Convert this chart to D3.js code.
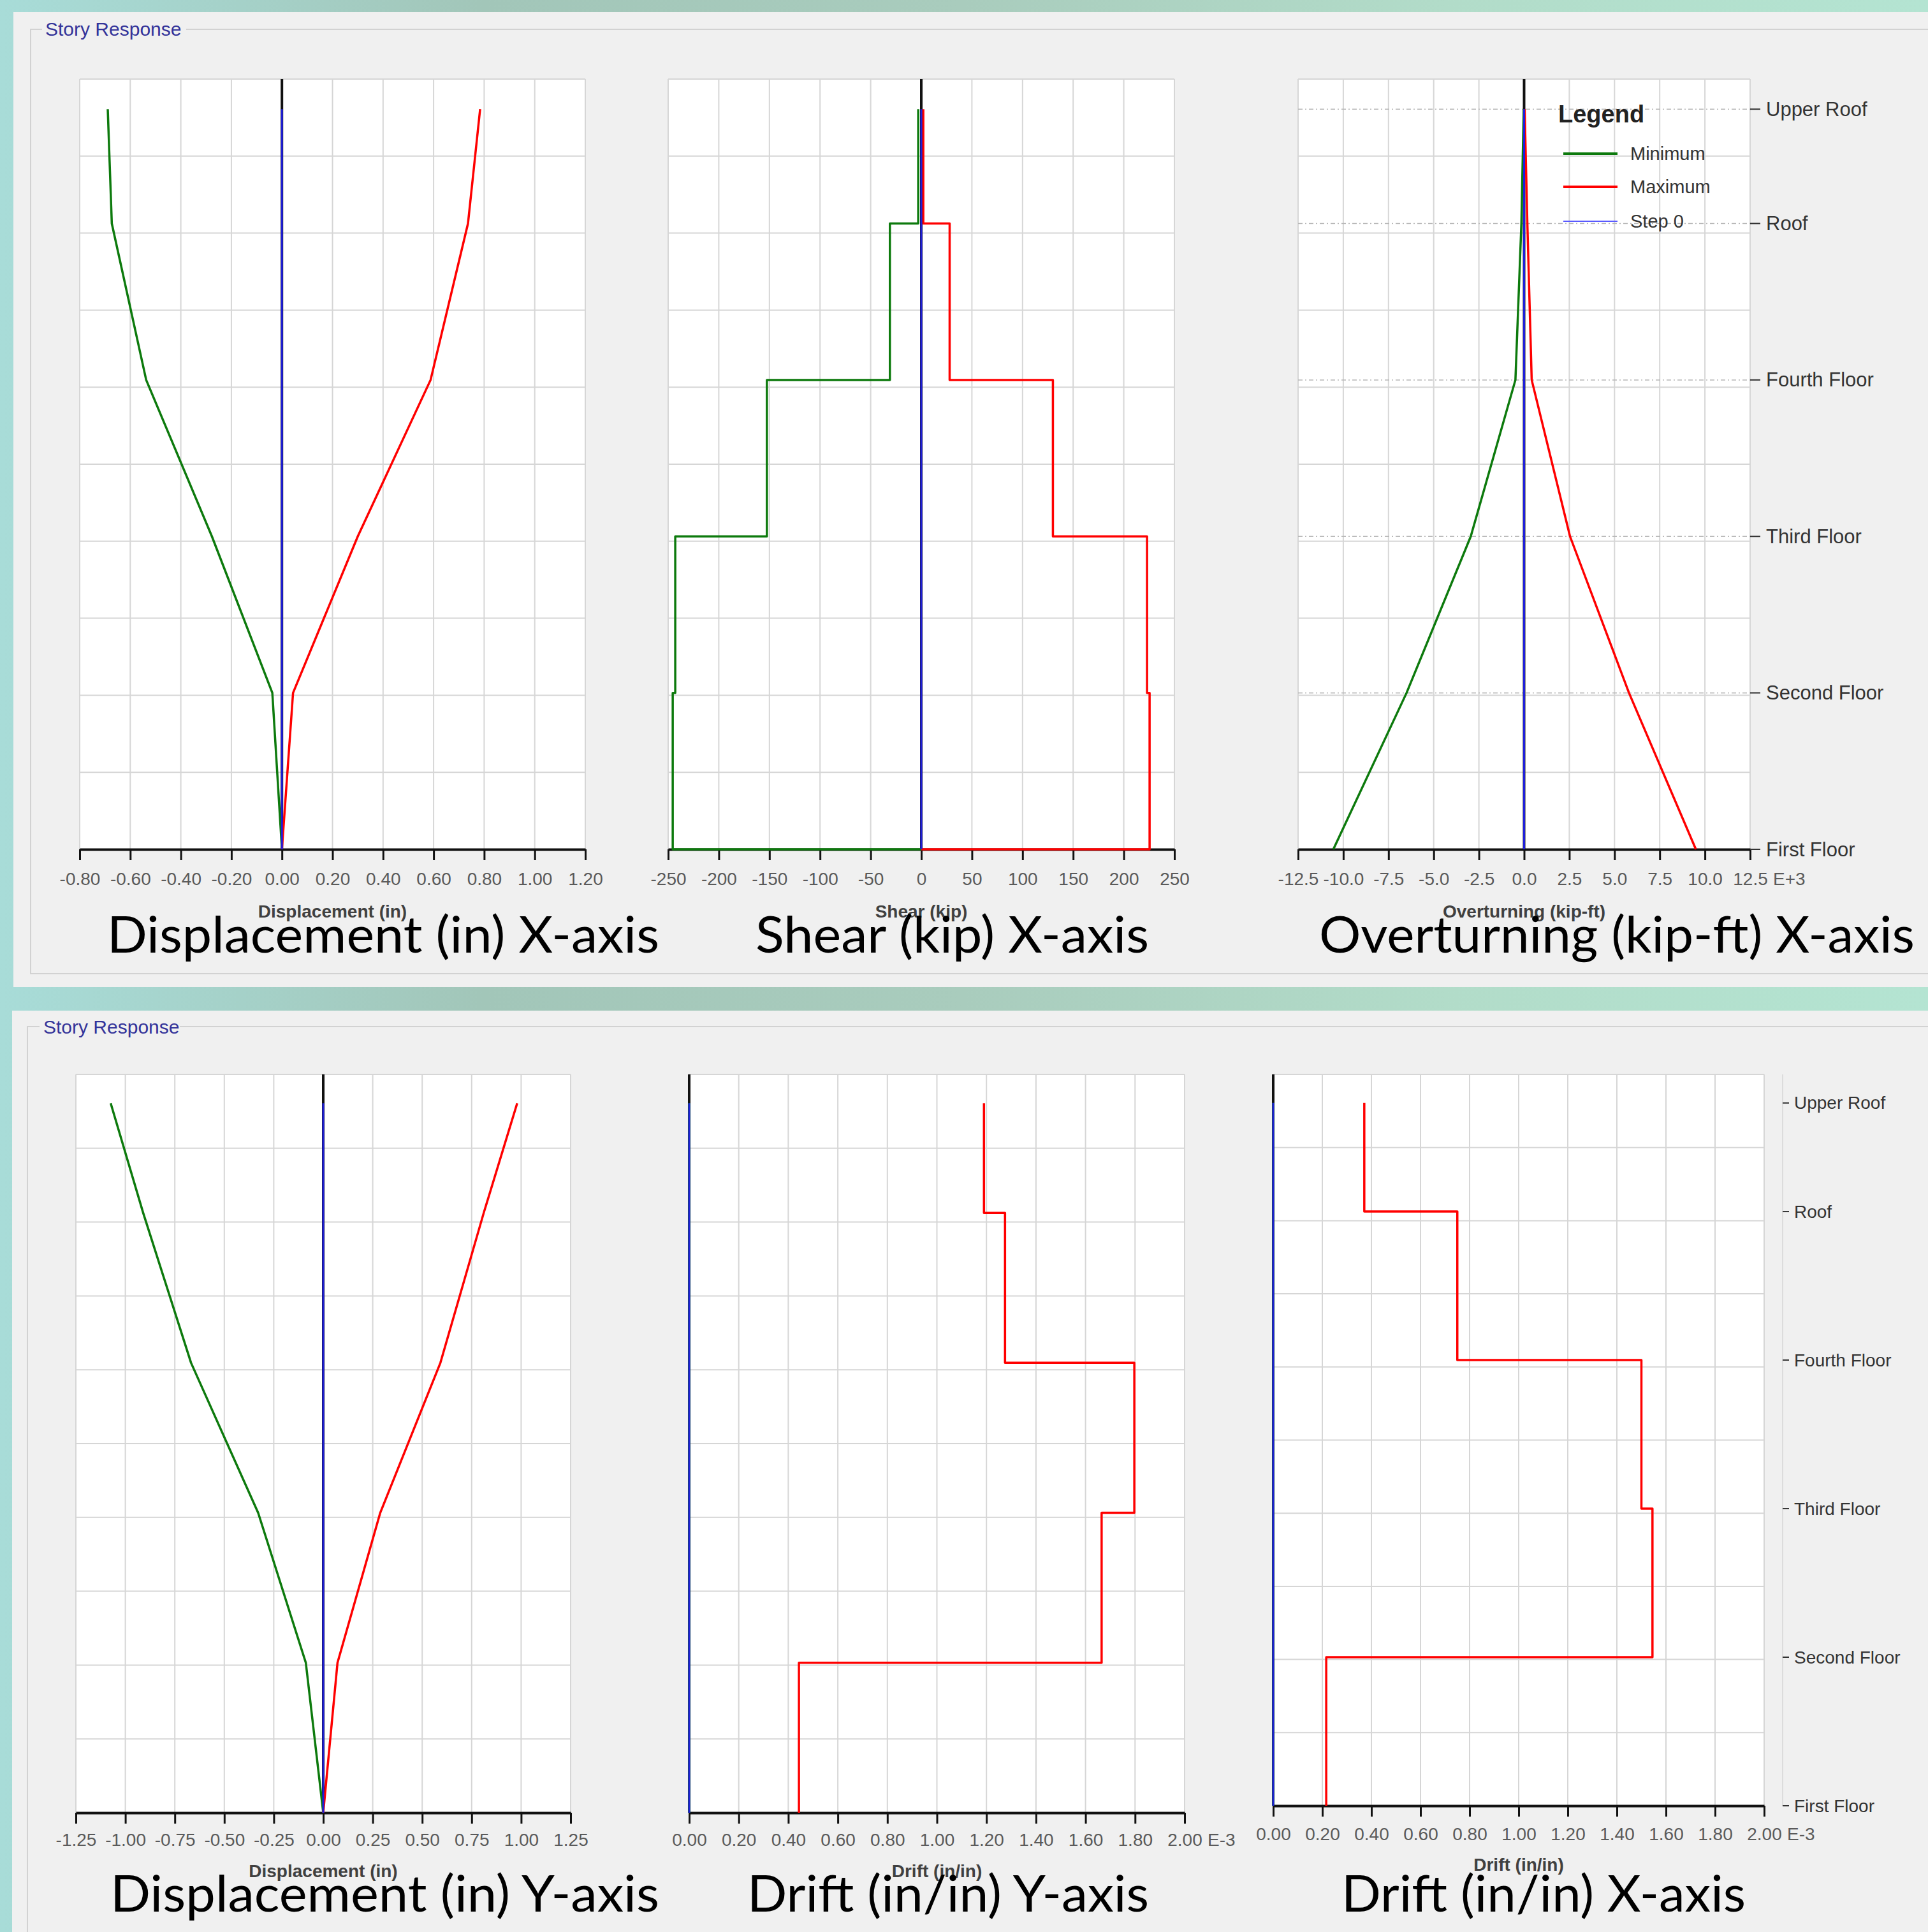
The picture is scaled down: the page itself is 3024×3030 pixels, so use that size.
<!DOCTYPE html>
<html><head><meta charset="utf-8">
<script src="https://cdn.jsdelivr.net/npm/d3@7"></script>
<style>html,body{margin:0;padding:0;background:#a9d3cc;} svg{display:block}</style>
</head><body><svg id="c" width="3024" height="3030"></svg>
<script>
// ---------- DATA ----------
const stories = ["First Floor","Second Floor","Third Floor","Fourth Floor","Roof","Upper Roof"];
const elevations = [0, 13, 26, 39, 52, 61.5];           // ft
const elevGrid = [0, 6.4, 12.8, 19.2, 25.6, 32, 38.4, 44.8, 51.2, 57.6, 64];

// Displacement X (in) at each level (First..Upper Roof)
const dispXMin = [0, -0.038, -0.277, -0.537, -0.673, -0.689];
const dispXMax = [0, 0.044, 0.300, 0.588, 0.736, 0.784];
// Shear X (kip) per story (Second..Upper Roof story)
const shearXMin = [-245.5, -243, -152.5, -31, -3];
const shearXMax = [225.5, 223, 130, 28, 2];
// Overturning X (kip-ft, E+3) at each level
const otmXMin = [-10.55, -6.5, -2.95, -0.48, -0.15, -0.02];
const otmXMax = [9.5, 5.8, 2.54, 0.42, 0.18, 0.03];
// Displacement Y (in) at each level
const dispYMin = [0, -0.088, -0.329, -0.668, -0.910, -1.074];
const dispYMax = [0, 0.072, 0.288, 0.592, 0.811, 0.980];
// Drift (E-3) per story (Second..Upper Roof story)
const driftYMin = [0, 0, 0, 0, 0];
const driftYMax = [0.443, 1.665, 1.797, 1.275, 1.19];
const driftXMin = [0, 0, 0, 0, 0];
const driftXMax = [0.216, 1.545, 1.500, 0.750, 0.371];
const step0 = [0, 0, 0, 0, 0, 0];

// Tick labels
const dispXTicks = [-0.8, -0.6, -0.4, -0.2, 0, 0.2, 0.4, 0.6, 0.8, 1.0, 1.2];
const shearTicks = [-250, -200, -150, -100, -50, 0, 50, 100, 150, 200, 250];
const otmTicks = [-12.5, -10, -7.5, -5, -2.5, 0, 2.5, 5, 7.5, 10, 12.5];
const dispYTicks = [-1.25, -1, -0.75, -0.5, -0.25, 0, 0.25, 0.5, 0.75, 1, 1.25];
const driftTicks = [0, 0.2, 0.4, 0.6, 0.8, 1.0, 1.2, 1.4, 1.6, 1.8, 2.0];
const legendItems = ["Minimum", "Maximum", "Step 0"];

// ---------- STYLE ----------
const C = {green:"#0d7a0d", red:"#ff0000", blue:"#1f1fd8", legendBlue:"#5a5aff",
  grid:"#d6d6d6", panel:"#f0f0f0", tick:"#5a5a5a", title:"#404040", label:"#333333"};
const loc = d3.formatLocale({decimal:".", thousands:",", grouping:[3], currency:["",""], minus:"-"});

const svg = d3.select("#c");
const defs = svg.append("defs");
const g1 = defs.append("linearGradient").attr("id","bg").attr("x1","0").attr("x2","1").attr("y1","0").attr("y2","0");
[["0","#a8dcd8"],["0.25","#a2c6b9"],["0.5","#a9ccbd"],["0.75","#b2dcc9"],["1","#b4e4d2"]]
  .forEach(([o,c])=>g1.append("stop").attr("offset",o).attr("stop-color",c));
svg.append("rect").attr("width",3024).attr("height",3030).attr("fill","url(#bg)");

// panels
svg.append("rect").attr("x",21).attr("y",19).attr("width",3010).attr("height",1529).attr("fill",C.panel);
svg.append("rect").attr("x",19).attr("y",1585).attr("width",3010).attr("height",1450).attr("fill",C.panel);
// group boxes
const gb = svg.append("g").attr("fill","none").attr("stroke","#d2d2d2").attr("stroke-width",2);
gb.append("path").attr("d","M66,46H48V1527H3030");
gb.append("path").attr("d","M292,46H3030");
gb.append("path").attr("d","M62,1610H43V3040");
gb.append("path").attr("d","M282,1610H3030");
svg.append("text").attr("x",71).attr("y",56).text("Story Response")
  .attr("font-family","Liberation Sans, Arial, sans-serif").attr("font-size",30).attr("fill","#333399");
svg.append("text").attr("x",68).attr("y",1621).text("Story Response")
  .attr("font-family","Liberation Sans, Arial, sans-serif").attr("font-size",30).attr("fill","#333399");

const plots = [
  {L:125,R:918,T:124,B:1332, dom:[-0.8,1.2], ticks:dispXTicks, f:loc.format(".2f"), title:"Displacement (in)",
   caption:"Displacement (in) X-axis", capX:[168,1034], capY:1494, type:"line", min:dispXMin, max:dispXMax, tickDy:56, titleDy:107},
  {L:1048,R:1842,T:124,B:1332, dom:[-250,250], ticks:shearTicks, f:loc.format("d"), title:"Shear (kip)",
   caption:"Shear (kip) X-axis", capX:[1185,1802], capY:1494, type:"step", closeZero:true, min:shearXMin, max:shearXMax, tickDy:56, titleDy:107},
  {L:2036,R:2745,T:124,B:1332, dom:[-12.5,12.5], ticks:otmTicks, f:loc.format(".1f"), suffix:"E+3", title:"Overturning (kip-ft)",
   caption:"Overturning (kip-ft) X-axis", capX:[2069,3003], capY:1494, type:"line", min:otmXMin, max:otmXMax, tickDy:56, titleDy:107,
   labels:{x0:2745, x1:2761, tx:2770, size:31}, legend:true, dotted:true},
  {L:119,R:895,T:1685,B:2843, dom:[-1.25,1.25], ticks:dispYTicks, f:loc.format(".2f"), title:"Displacement (in)",
   caption:"Displacement (in) Y-axis", capX:[173,1034], capY:2998, type:"line", min:dispYMin, max:dispYMax, tickDy:52, titleDy:101},
  {L:1081,R:1858,T:1685,B:2843, dom:[0,2], ticks:driftTicks, f:loc.format(".2f"), suffix:"E-3", title:"Drift (in/in)",
   caption:"Drift (in/in) Y-axis", capX:[1172,1802], capY:2998, type:"step", min:driftYMin, max:driftYMax, tickDy:52, titleDy:101},
  {L:1997,R:2767,T:1685,B:2832, dom:[0,2], ticks:driftTicks, f:loc.format(".2f"), suffix:"E-3", title:"Drift (in/in)",
   caption:"Drift (in/in) X-axis", capX:[2104,2738], capY:2998, type:"step", min:driftXMin, max:driftXMax, tickDy:54, titleDy:102,
   labels:{axis:2796, x0:2796, x1:2806, tx:2814, size:28}}
];

function levelPoints(vals){ return elevations.map((e,i)=>[vals[i], e]); }
function stepPoints(vals, closeZero){
  const pts = [];
  for (let i = elevations.length-1; i >= 1; i--) {
    pts.push([vals[i-1], elevations[i]]);
    pts.push([vals[i-1], elevations[i-1]]);
  }
  if (closeZero) pts.push([0, elevations[0]]);
  return pts;
}

plots.forEach(p => {
  const x = d3.scaleLinear().domain(p.dom).range([p.L, p.R]);
  const y = d3.scaleLinear().domain([0, 64]).range([p.B, p.T]);
  const g = svg.append("g");
  g.append("rect").attr("x",p.L).attr("y",p.T).attr("width",p.R-p.L).attr("height",p.B-p.T).attr("fill","#fff");
  // grid
  g.selectAll(".vg").data(p.ticks).join("line").attr("x1",d=>x(d)).attr("x2",d=>x(d))
    .attr("y1",p.T).attr("y2",p.B).attr("stroke",C.grid).attr("stroke-width",2);
  g.selectAll(".hg").data(elevGrid).join("line").attr("y1",d=>y(d)).attr("y2",d=>y(d))
    .attr("x1",p.L).attr("x2",p.R).attr("stroke",C.grid).attr("stroke-width",2);
  if (p.dotted) {
    g.selectAll(".dl").data(elevations.slice(1)).join("line").attr("y1",d=>y(d)).attr("y2",d=>y(d))
      .attr("x1",p.L).attr("x2",p.R).attr("stroke","#b8b8b8").attr("stroke-width",1.5)
      .attr("stroke-dasharray","7,4,2,4");
  }
  // zero line (black)
  g.append("line").attr("x1",x(0)).attr("x2",x(0)).attr("y1",p.T).attr("y2",p.B)
    .attr("stroke","#111").attr("stroke-width",4);
  // bottom axis
  const ax = g.append("g").attr("transform",`translate(0,${p.B})`)
    .call(d3.axisBottom(x).tickValues(p.ticks).tickSize(17).tickSizeOuter(0).tickFormat(p.f));
  ax.select(".domain").attr("stroke","#111").attr("stroke-width",4);
  ax.selectAll(".tick line").attr("stroke","#111").attr("stroke-width",3);
  ax.selectAll(".tick text").attr("y", p.tickDy - 11).attr("dy",0).attr("dominant-baseline","auto")
    .attr("transform","translate(0,11)")
    .attr("font-family","Liberation Sans, Arial, sans-serif").attr("font-size",28).attr("fill",C.tick);
  if (p.suffix) {
    g.append("text").attr("x",p.R+36).attr("y",p.B+p.tickDy).text(p.suffix)
      .attr("font-family","Liberation Sans, Arial, sans-serif").attr("font-size",28).attr("fill",C.tick);
  }
  // data
  const line = d3.line().x(d=>x(d[0])).y(d=>y(d[1]));
  const minPts = p.type === "line" ? levelPoints(p.min) : stepPoints(p.min, p.closeZero);
  const maxPts = p.type === "line" ? levelPoints(p.max) : stepPoints(p.max, p.closeZero);
  g.append("path").attr("d",line(minPts)).attr("fill","none").attr("stroke",C.green).attr("stroke-width",3.5).attr("stroke-linejoin","round");
  g.append("path").attr("d",line(maxPts)).attr("fill","none").attr("stroke",C.red).attr("stroke-width",3.5).attr("stroke-linejoin","round");
  g.append("path").attr("d",line(levelPoints(step0))).attr("fill","none").attr("stroke",C.blue).attr("stroke-width",3);
  // titles
  g.append("text").attr("x",(p.L+p.R)/2).attr("y",p.B+p.titleDy).attr("text-anchor","middle").text(p.title)
    .attr("font-family","Liberation Sans, Arial, sans-serif").attr("font-weight","bold").attr("font-size",28).attr("fill",C.title);
  g.append("text").attr("x",p.capX[0]).attr("y",p.capY).text(p.caption)
    .attr("textLength",p.capX[1]-p.capX[0]).attr("lengthAdjust","spacingAndGlyphs")
    .attr("font-family","Lato, Carlito, 'Open Sans', sans-serif").attr("font-size",80).attr("fill","#000");
  // story labels
  if (p.labels) {
    const lb = p.labels;
    if (lb.axis) g.append("line").attr("x1",lb.axis).attr("x2",lb.axis).attr("y1",p.T).attr("y2",p.B)
      .attr("stroke","#dcdcdc").attr("stroke-width",2);
    g.selectAll(".st").data(stories).join("line").attr("x1",lb.x0).attr("x2",lb.x1)
      .attr("y1",(d,i)=>y(elevations[i])).attr("y2",(d,i)=>y(elevations[i])).attr("stroke","#333").attr("stroke-width",2);
    g.selectAll(".sl").data(stories).join("text").attr("x",lb.tx).attr("y",(d,i)=>y(elevations[i]))
      .attr("dominant-baseline","central").text(d=>d)
      .attr("font-family","Liberation Sans, Arial, sans-serif").attr("font-size",lb.size).attr("fill",C.label);
  }
  if (p.legend) {
    const lg = g.append("g");
    lg.append("text").attr("x",2444).attr("y",192).text("Legend")
      .attr("font-family","Liberation Sans, Arial, sans-serif").attr("font-weight","bold").attr("font-size",38).attr("fill","#222");
    const cols = [C.green, C.red, C.legendBlue], widths = [4,4,2], ys = [241,293,347];
    legendItems.forEach((t,i)=>{
      lg.append("line").attr("x1",2452).attr("x2",2537).attr("y1",ys[i]).attr("y2",ys[i]).attr("stroke",cols[i]).attr("stroke-width",widths[i]);
      lg.append("text").attr("x",2557).attr("y",ys[i]).attr("dominant-baseline","central").text(t)
        .attr("font-family","Liberation Sans, Arial, sans-serif").attr("font-size",29).attr("fill","#333");
    });
  }
});
</script></body></html>
